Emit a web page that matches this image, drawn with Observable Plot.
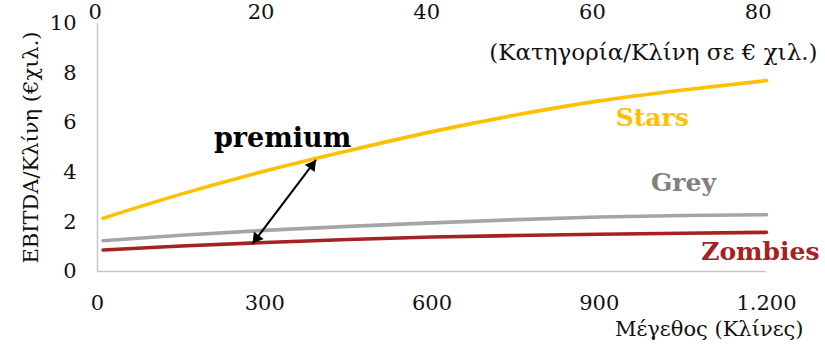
<!DOCTYPE html>
<html>
<head>
<meta charset="utf-8">
<script src="https://cdn.jsdelivr.net/npm/d3@7"></script>
<script src="https://cdn.jsdelivr.net/npm/@observablehq/plot@0.6"></script>
<style>
  html, body { margin: 0; padding: 0; background: #fff; }
  #chart svg { display: block; }
</style>
</head>
<body>
<div id="chart"></div>
<script>
// ---- data ----
const beds    = [10, 150, 300, 450, 600, 750, 900, 1050, 1200];
const stars   = [2.15, 3.12, 4.05, 4.87, 5.64, 6.31, 6.88, 7.32, 7.70];
const grey    = [1.24, 1.46, 1.66, 1.82, 1.96, 2.09, 2.20, 2.26, 2.29];
const zombies = [0.87, 1.03, 1.17, 1.29, 1.39, 1.45, 1.50, 1.545, 1.58];

const xTicks = [0, 300, 600, 900, 1200];
const yTicks = [0, 2, 4, 6, 8, 10];
const topTicks = [0, 20, 40, 60, 80];          // Κατηγορία/Κλίνη σε € χιλ.
const topAxisRange = [-4, 1185];                // where 0 and 80 sit on the beds axis

const seriesNames  = ["Stars", "Grey", "Zombies"];
const seriesColors = ["#FFC000", "#A5A5A5", "#A52122"];
const labelColors  = ["#FFC000", "#808080", "#A52122"];
const labelX = [995, 1051, 1189];
const labelY = [6.17, 3.55, 0.77];

const premiumLabel = "premium";
const premiumX = 332, premiumY = 5.36;
const arrowX = [278, 392];
const arrowY = [1.12, 4.50];

const xLabel   = "Μέγεθος (Κλίνες)";
const yLabel   = "EBITDA/Κλίνη (€χιλ.)";
const topLabel = "(Κατηγορία/Κλίνη σε € χιλ.)";

// ---- tables built from the arrays ----
const seriesValues = [stars, grey, zombies];
const lineData = seriesNames.map((name, i) =>
  beds.map((b, j) => ({beds: b, value: seriesValues[i][j], name})));
const labels = seriesNames.map((name, i) => ({name, x: labelX[i], y: labelY[i], color: labelColors[i]}));
const topScale = d3.scaleLinear([0, 80], topAxisRange);
const topTickPos = topTicks.map(t => topScale(t));
const arrowLink = [{x1: arrowX[0], y1: arrowY[0], x2: arrowX[1], y2: arrowY[1]}];

const fmt = d => d3.format(",")(d).replace(/,/g, ".");

const chart = Plot.plot({
  width: 825,
  height: 348,
  marginLeft: 97,
  marginRight: 59,
  marginTop: 23,
  marginBottom: 77,
  style: {fontFamily: "DejaVu Serif", fontSize: "21px", color: "#111", background: "#fff"},
  x: {domain: [0, 1200]},
  y: {domain: [0, 10]},
  marks: [
    Plot.ruleX([0], {stroke: "#c6c6c6", strokeWidth: 1.5}),
    Plot.ruleY([0], {stroke: "#c6c6c6", strokeWidth: 1.5}),
    Plot.axisY({ticks: yTicks, tickSize: 0, tickPadding: 21, tickFormat: d => d, label: null}),
    Plot.axisX({anchor: "bottom", ticks: xTicks, tickSize: 0, tickPadding: 24, tickFormat: fmt, label: null}),
    Plot.axisX({anchor: "top", ticks: topTickPos, tickSize: 0, tickPadding: 5,
                tickFormat: (d, i) => topTicks[topTickPos.indexOf(d)], label: null}),
    ...lineData.map((d, i) => Plot.line(d, {x: "beds", y: "value", stroke: seriesColors[i],
                                             strokeWidth: 3.6, curve: "monotone-x"})),
    Plot.text(labels, {x: "x", y: "y", text: "name", fill: "color", fontWeight: "bold", fontSize: 25}),
    Plot.text([premiumLabel], {x: premiumX, y: premiumY, text: d => d, fill: "#000", fontWeight: "bold", fontSize: 27}),
    Plot.link(arrowLink, {x1: "x1", y1: "y1", x2: "x2", y2: "y2", stroke: "#000", strokeWidth: 2}),
    Plot.dot([arrowLink[0]], {x: "x2", y: "y2", symbol: "triangle", r: 4.5, fill: "#000", stroke: "none", rotate: 37, dx: -4.2, dy: 5.6}),
    Plot.dot([arrowLink[0]], {x: "x1", y: "y1", symbol: "triangle", r: 4.5, fill: "#000", stroke: "none", rotate: 217, dx: 4.2, dy: -5.6}),
    Plot.text([yLabel], {frameAnchor: "left", text: d => d, rotate: -90, textAnchor: "middle", dx: -66, fontSize: 21, fill: "#111"}),
    Plot.text([xLabel], {frameAnchor: "bottom-right", text: d => d, textAnchor: "end", dx: 37, dy: 64, fontSize: 21, fill: "#111"}),
    Plot.text([topLabel], {frameAnchor: "top-right", text: d => d, textAnchor: "end", dx: 51, dy: 20, fontSize: 23, fill: "#111"})
  ]
});
document.getElementById("chart").appendChild(chart);
</script>
</body>
</html>
